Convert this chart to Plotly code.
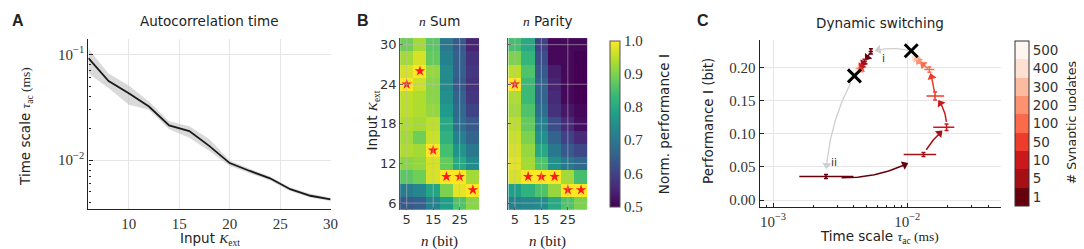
import numpy as np
import plotly.graph_objects as go

SANS = "DejaVu Sans"
SERIF = "Liberation Serif"
W, H = 1084, 249


def px(x):
    return x / W


def py(y):
    return 1 - y / H


# ---------------- Panel A data ----------------
k_ext = [6, 8, 10, 12, 14, 16, 18, 20, 22, 24, 26, 28, 30]
tau_mean = [0.092, 0.0558, 0.0428, 0.0321, 0.0213, 0.0188, 0.01355, 0.00937,
            0.00789, 0.00673, 0.00531, 0.0046, 0.00425]
tau_upper = [0.113, 0.066, 0.0506, 0.0358, 0.0233, 0.0209, 0.0157, 0.0099,
             0.0083, 0.0070, 0.0055, 0.0048, 0.0044]
tau_lower = [0.066, 0.048, 0.0333, 0.0299, 0.0196, 0.0163, 0.0122, 0.0088,
             0.0075, 0.0064, 0.0051, 0.0044, 0.0041]

# ---------------- Panel B data ----------------
n_bits = [5, 10, 15, 20, 25, 30]
k_rows = [6, 8, 10, 12, 14, 16, 18, 20, 22, 24, 26, 28, 30]
sum_perf = [
    [0.64, 0.65, 0.72, 0.78, 0.86, 0.91],
    [0.71, 0.73, 0.79, 0.90, 0.98, 1.00],
    [0.87, 0.89, 0.97, 1.00, 1.00, 0.93],
    [0.91, 0.92, 0.97, 0.88, 0.80, 0.74],
    [0.94, 0.93, 1.00, 0.85, 0.76, 0.70],
    [0.93, 0.89, 0.96, 0.82, 0.72, 0.66],
    [0.94, 0.93, 0.95, 0.80, 0.68, 0.64],
    [0.95, 0.94, 0.92, 0.77, 0.67, 0.60],
    [0.95, 0.94, 0.91, 0.75, 0.66, 0.58],
    [1.00, 0.96, 0.91, 0.74, 0.64, 0.57],
    [0.97, 1.00, 0.92, 0.74, 0.65, 0.58],
    [0.93, 0.97, 0.88, 0.72, 0.65, 0.57],
    [0.89, 0.93, 0.87, 0.70, 0.64, 0.55],
]
parity_perf = [
    [0.72, 0.73, 0.74, 0.80, 0.86, 0.90],
    [0.78, 0.82, 0.86, 0.92, 1.00, 1.00],
    [0.97, 1.00, 1.00, 1.00, 0.93, 0.85],
    [0.98, 0.93, 0.86, 0.75, 0.70, 0.67],
    [0.97, 0.92, 0.80, 0.70, 0.64, 0.61],
    [0.96, 0.90, 0.75, 0.66, 0.60, 0.56],
    [0.95, 0.88, 0.72, 0.62, 0.56, 0.52],
    [0.93, 0.86, 0.68, 0.57, 0.53, 0.51],
    [0.94, 0.84, 0.66, 0.56, 0.51, 0.50],
    [1.00, 0.84, 0.66, 0.55, 0.51, 0.50],
    [0.95, 0.86, 0.64, 0.54, 0.51, 0.50],
    [0.90, 0.83, 0.62, 0.51, 0.51, 0.50],
    [0.85, 0.80, 0.60, 0.51, 0.51, 0.51],
]
cbar_b_ticks = [0.5, 0.6, 0.7, 0.8, 0.9, 1.0]

# ---------------- Panel C data ----------------
updates = ["1", "5", "10", "50", "100", "200", "300", "400", "500"]
reds = ["#67000d", "#a50f15", "#cb181d", "#ef3b2c", "#fb6a4a",
        "#fc9272", "#fcbba1", "#fee0d2", "#fff5f0"]

# trajectory after switch "ii"
t1_tau = [0.00248, 0.0132, 0.0196, 0.0161, 0.0146, 0.0122, 0.0116, 0.0112, 0.0109]
t1_perf = [0.0356, 0.069, 0.110, 0.157, 0.197, 0.2095, 0.214, 0.218, 0.221]
t1_tau_lo = [0.00157, 0.0094, 0.0156, 0.0139, 0.0134, 0.0117, 0.0112, 0.0109, 0.0106]
t1_tau_hi = [0.00397, 0.0164, 0.0224, 0.0188, 0.0159, 0.0128, 0.0120, 0.0115, 0.0112]
t1_perf_err = [0.003, 0.003, 0.005, 0.006, 0.004, 0.003, 0.002, 0.002, 0.002]

# trajectory after switch "i"
t2_tau = [0.00536, 0.0048, 0.00455, 0.00443, 0.00432, 0.00425, 0.0042, 0.00416, 0.00412]
t2_perf = [0.2245, 0.2095, 0.2015, 0.1975, 0.1965, 0.1955, 0.195, 0.1945, 0.194]
t2_tau_lo = [0.00515, 0.0046, 0.0044, 0.0042, 0.0041, 0.00405, 0.0040, 0.00398, 0.00395]
t2_tau_hi = [0.00555, 0.0050, 0.0047, 0.0046, 0.0045, 0.00445, 0.0044, 0.00435, 0.0043]
t2_perf_err = [0.004, 0.003, 0.002, 0.002, 0.002, 0.002, 0.002, 0.002, 0.002]

# end states (black crosses)
end_tau = [0.0107, 0.00404]
end_perf = [0.2255, 0.1875]

fig = go.Figure()

# ---------------- Panel A traces ----------------
fig.add_trace(go.Scatter(x=k_ext, y=tau_upper, mode="lines", line=dict(width=0),
                         xaxis="x", yaxis="y", hoverinfo="skip"))
fig.add_trace(go.Scatter(x=k_ext, y=tau_lower, mode="lines", line=dict(width=0),
                         fill="tonexty", fillcolor="rgba(185,185,185,0.55)",
                         xaxis="x", yaxis="y", hoverinfo="skip"))
fig.add_trace(go.Scatter(x=k_ext, y=tau_mean, mode="lines",
                         line=dict(color="#1a1a1a", width=1.8), xaxis="x", yaxis="y"))

# ---------------- Panel B traces ----------------
for z, xa, ya in [(sum_perf, "x2", "y2"), (parity_perf, "x3", "y3")]:
    fig.add_trace(go.Heatmap(x=n_bits, y=k_rows, z=z, coloraxis="coloraxis",
                             xaxis=xa, yaxis=ya))
for z, xa, ya in [(sum_perf, "x2", "y2"), (parity_perf, "x3", "y3")]:
    arr = np.array(z)
    idx = arr.argmax(axis=0)
    fig.add_trace(go.Scatter(x=n_bits, y=[k_rows[i] for i in idx], mode="markers",
                             marker=dict(symbol="star", size=8, color="#ff1a1a",
                                         line=dict(width=0)),
                             xaxis=xa, yaxis=ya))

# ---------------- Panel C traces ----------------
XR = (-3.099, -1.305)
YR = (-0.011, 0.241)
CW = 1000 - 757.3
CH = 200 - 31.7


def to_px(t, p):
    return np.array([(np.log10(t) - XR[0]) / (XR[1] - XR[0]) * CW,
                     (p - YR[0]) / (YR[1] - YR[0]) * CH])


def from_px(q):
    return 10 ** (XR[0] + q[0] / CW * (XR[1] - XR[0])), YR[0] + q[1] / CH * (YR[1] - YR[0])


def arc(a, b, bend, t0, t1, n=40):
    p0 = to_px(*a)
    p1 = to_px(*b)
    d = p1 - p0
    L = np.hypot(*d)
    nrm = np.array([-d[1], d[0]]) / L if L > 0 else np.zeros(2)
    c = (p0 + p1) / 2 + bend * L * nrm
    pts = []
    for t in np.linspace(t0, t1, n):
        pts.append((1 - t) ** 2 * p0 + 2 * (1 - t) * t * c + t ** 2 * p1)
    return pts


def add_arrow(a, b, bend, t0, t1, color, width=1.5, head=8):
    pts = arc(a, b, bend, t0, t1)
    xs, ys = zip(*[from_px(q) for q in pts])
    fig.add_trace(go.Scatter(x=list(xs), y=list(ys), mode="lines",
                             line=dict(color=color, width=width),
                             xaxis="x4", yaxis="y4", hoverinfo="skip"))
    d = pts[-1] - pts[-3]
    ang = float(np.degrees(np.arctan2(d[0], d[1])))
    L = np.hypot(*d)
    tip = pts[-1] - (d / L) * head * 0.35 if L > 0 else pts[-1]
    hx, hy = from_px(tip)
    fig.add_trace(go.Scatter(x=[hx], y=[hy], mode="markers",
                             marker=dict(symbol="triangle-up", size=head, angle=ang,
                                         color=color, line=dict(width=0)),
                             xaxis="x4", yaxis="y4", hoverinfo="skip"))


# gray switching arrows
add_arrow((end_tau[0], end_perf[0]), (t2_tau[0], t2_perf[0]), -0.12, 0.08, 0.88, "#cfcfcf", 1.3)
add_arrow((end_tau[1], end_perf[1]), (t1_tau[0], t1_perf[0]), -0.12, 0.07, 0.92, "#cfcfcf", 1.3)

t1_bends = [-0.18, 0.1, -0.2, -0.05, 0.0, 0.0, 0.0, 0.0]
t2_bends = [0.05, 0.0, 0.0, 0.0, 0.0, 0.0, 0.0, 0.0]
for tau, perf, bends in [(t1_tau, t1_perf, t1_bends), (t2_tau, t2_perf, t2_bends)]:
    for i in range(len(tau) - 1):
        add_arrow((tau[i], perf[i]), (tau[i + 1], perf[i + 1]), bends[i], 0.15, 0.82, reds[i], 1.5)

for tau, perf, lo, hi, pe in [(t1_tau, t1_perf, t1_tau_lo, t1_tau_hi, t1_perf_err),
                              (t2_tau, t2_perf, t2_tau_lo, t2_tau_hi, t2_perf_err)]:
    for i in range(len(tau)):
        fig.add_trace(go.Scatter(
            x=[tau[i]], y=[perf[i]], mode="markers",
            marker=dict(size=1, color=reds[i]),
            error_x=dict(type="data", symmetric=False, array=[hi[i] - tau[i]],
                         arrayminus=[tau[i] - lo[i]], color=reds[i], thickness=1.5, width=0),
            error_y=dict(type="data", array=[pe[i]], color=reds[i], thickness=1.5, width=2),
            xaxis="x4", yaxis="y4"))

fig.add_trace(go.Scatter(x=end_tau, y=end_perf, mode="markers",
                         marker=dict(symbol="x-thin", size=13, line=dict(color="black", width=3)),
                         xaxis="x4", yaxis="y4"))

# discrete colorbar for number of updates
ncat = len(updates)
cscale = []
for i, c in enumerate(reds):
    cscale.append([i / ncat, c])
    cscale.append([(i + 1) / ncat, c])
fig.add_trace(go.Scatter(
    x=[None], y=[None], mode="markers", xaxis="x4", yaxis="y4",
    marker=dict(color=[0], colorscale=cscale, cmin=0, cmax=ncat, showscale=True,
                colorbar=dict(x=px(1014), xanchor="left", thickness=14,
                              len=(199 - 32.3) / H, lenmode="fraction",
                              y=py((199 + 32.3) / 2), yanchor="middle",
                              xpad=0, ypad=0, outlinewidth=1, outlinecolor="#333",
                              tickvals=[i + 0.5 for i in range(ncat)], ticktext=updates,
                              ticks="", tickfont=dict(family=SANS, size=13.5, color="#333")))))

# ---------------- Layout ----------------
grid = "#e6e6e6"
minorA = [m * 10 ** e for e in (-3, -2) for m in range(2, 10)]
minorC = [m * 10 ** e for e in (-4, -3, -2) for m in range(2, 10)]

serif_tick = dict(family=SERIF, size=15, color="#333")
sans_tick = dict(family=SANS, size=13, color="#333")

layout = dict(
    width=W, height=H, margin=dict(l=0, r=0, t=0, b=0),
    paper_bgcolor="white", plot_bgcolor="white", showlegend=False,
    xaxis=dict(domain=[px(81), px(325)], anchor="y", range=[6, 30],
               tickvals=[10, 15, 20, 25, 30], showgrid=True, gridcolor=grid,
               zeroline=False, showline=True, linecolor="#222", linewidth=1.3,
               ticks="", tickfont=serif_tick),
    yaxis=dict(domain=[py(202), py(30)], anchor="x", type="log", range=[-2.466, -0.853],
               tickvals=[0.01, 0.1], ticktext=["10<sup>−2</sup>", "10<sup>−1</sup>"],
               showgrid=True, gridcolor=grid, zeroline=False, showline=True,
               linecolor="#222", linewidth=1.3, ticks="inside", ticklen=4,
               tickcolor="#222", tickfont=serif_tick,
               minor=dict(tickvals=minorA, ticks="inside", ticklen=2.5,
                          tickcolor="#222", showgrid=False)),
    xaxis2=dict(domain=[px(395), px(475)], anchor="y2", range=[2.5, 32.5],
                tickvals=[5, 15, 25], showgrid=False, zeroline=False,
                showline=False, ticks="inside", ticklen=3, tickcolor="#333",
                tickfont=sans_tick, layer="above traces"),
    yaxis2=dict(domain=[py(202.3), py(29.3)], anchor="x2", range=[5, 31],
                tickvals=[6, 12, 18, 24, 30], showgrid=False, zeroline=False,
                showline=True, linecolor="#555", linewidth=1, ticks="inside",
                ticklen=3, tickcolor="#333", tickfont=sans_tick, layer="above traces"),
    xaxis3=dict(domain=[px(504), px(584)], anchor="y3", range=[2.5, 32.5],
                tickvals=[5, 15, 25], showgrid=False, zeroline=False,
                showline=False, ticks="inside", ticklen=3, tickcolor="#333",
                tickfont=sans_tick, layer="above traces"),
    yaxis3=dict(domain=[py(202.3), py(29.3)], anchor="x3", range=[5, 31],
                tickvals=[6, 12, 18, 24, 30], showticklabels=False, showgrid=False,
                zeroline=False, showline=True, linecolor="#555", linewidth=1,
                ticks="inside", ticklen=3, tickcolor="#333", layer="above traces"),
    xaxis4=dict(domain=[px(757.3), px(1000)], anchor="y4", type="log", range=list(XR),
                tickvals=[0.001, 0.01], ticktext=["10<sup>−3</sup>", "10<sup>−2</sup>"],
                showgrid=True, gridcolor=grid, zeroline=False, showline=True,
                linecolor="#222", linewidth=1.3, ticks="inside", ticklen=4,
                tickcolor="#222", tickfont=serif_tick,
                minor=dict(tickvals=minorC, ticks="inside", ticklen=2.5,
                           tickcolor="#222", showgrid=False)),
    yaxis4=dict(domain=[py(200), py(31.7)], anchor="x4", range=list(YR),
                tickvals=[0, 0.05, 0.1, 0.15, 0.2],
                ticktext=["0.00", "0.05", "0.10", "0.15", "0.20"],
                showgrid=True, gridcolor=grid, zeroline=False, showline=True,
                linecolor="#222", linewidth=1.3, ticks="inside", ticklen=4,
                tickcolor="#222", tickfont=serif_tick),
    coloraxis=dict(colorscale="Viridis", cmin=0.5, cmax=1.0,
                   colorbar=dict(x=px(606.7), xanchor="left", thickness=10,
                                 len=(199.3 - 31.7) / H, lenmode="fraction",
                                 y=py((199.3 + 31.7) / 2), yanchor="middle",
                                 xpad=0, ypad=0, outlinewidth=1, outlinecolor="#555",
                                 tickvals=cbar_b_ticks,
                                 ticktext=["%.1f" % v for v in cbar_b_ticks],
                                 ticks="", tickfont=serif_tick)),
)

# grid overlay on heatmaps
shapes = []
for xa, ya in [("x2", "y2"), ("x3", "y3")]:
    for v in [5, 15, 25]:
        shapes.append(dict(type="line", xref=xa, yref=ya, x0=v, x1=v, y0=5, y1=31,
                           line=dict(color="rgba(190,190,190,0.55)", width=1), layer="above"))
    for v in [6, 12, 18, 24, 30]:
        shapes.append(dict(type="line", xref=xa, yref=ya, x0=2.5, x1=32.5, y0=v, y1=v,
                           line=dict(color="rgba(190,190,190,0.55)", width=1), layer="above"))
layout["shapes"] = shapes

annotations = []


def ann(text, x, y, size=13.5, family=SANS, angle=0, xanchor="center", yanchor="middle",
        color="#222", xref="paper", yref="paper"):
    annotations.append(dict(text=text, x=x, y=y, xref=xref, yref=yref, showarrow=False,
                            textangle=angle, xanchor=xanchor, yanchor=yanchor,
                            font=dict(family=family, size=size, color=color)))


SER = "<span style='font-family:Liberation Serif'>"
tau_txt = "Time scale " + SER + "<i>τ</i><sub>ac</sub> (ms)</span>"
kext_txt = "Input " + SER + "<i>K</i><sub>ext</sub></span>"

# panel letters
ann("<b>A</b>", px(2), py(12), size=16, family="Liberation Sans", xanchor="left")
ann("<b>B</b>", px(350), py(12), size=16, family="Liberation Sans", xanchor="left")
ann("<b>C</b>", px(692), py(12), size=16, family="Liberation Sans", xanchor="left")

# titles
ann("Autocorrelation time", px(203), py(12))
ann(SER + "<i>n</i></span> Sum", px(435), py(12))
ann(SER + "<i>n</i></span> Parity", px(544), py(12))
ann("Dynamic switching", px(878), py(14))

# axis titles
ann(kext_txt, px(203), py(232))
ann(tau_txt, px(18), py(118), angle=-90)
ann(SER + "<i>n</i> (bit)</span>", px(435), py(234), size=15)
ann(SER + "<i>n</i> (bit)</span>", px(544), py(234), size=15)
ann(kext_txt, px(368), py(112), angle=-90)
ann("Norm. performance I", px(661), py(116), angle=-90)
ann("Performance I (bit)", px(705), py(113), angle=-90)
ann(tau_txt, px(878), py(230))
ann("# Synaptic updates", px(1071), py(115), size=12.5, angle=-90)

# switch labels
ann("i", -2.18, 0.214, size=11, xref="x4", yref="y4", color="#333")
ann("ii", -2.549, 0.0565, size=11, xref="x4", yref="y4", color="#333")

layout["annotations"] = annotations
fig.update_layout(**layout)
fig.write_html("out.html")
